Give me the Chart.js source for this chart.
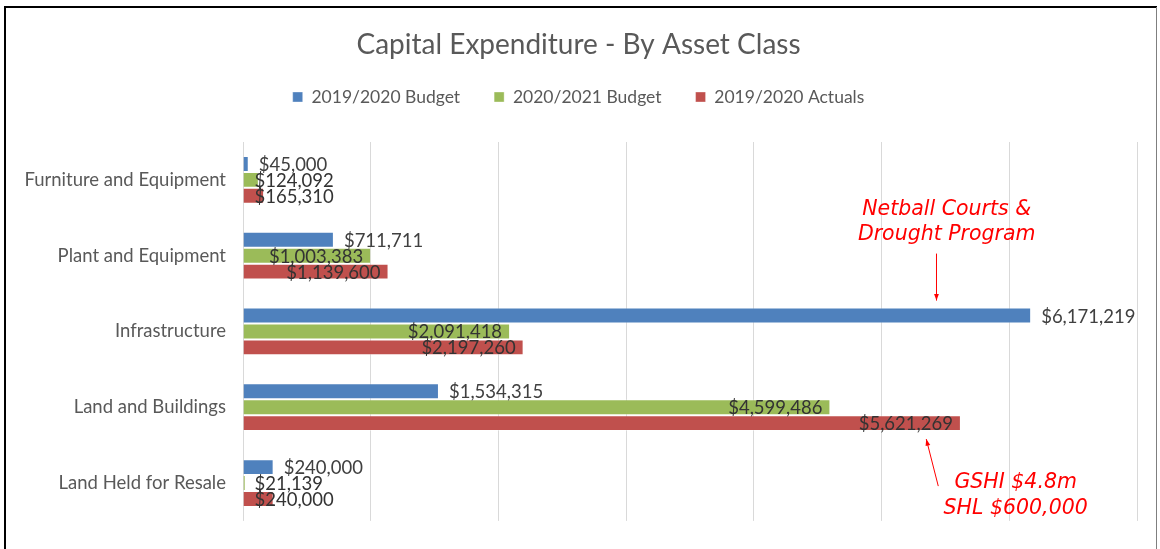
<!DOCTYPE html>
<html>
<head>
<meta charset="utf-8">
<script src="https://cdn.jsdelivr.net/npm/chart.js@4"></script>
<style>
  html, body { margin: 0; padding: 0; background: #fff; }
  #wrap { position: relative; width: 1160px; height: 549px; }
</style>
</head>
<body>
<div id="wrap"><canvas id="chart" width="1160" height="549"></canvas></div>
<script>
// ─── DATA ──────────────────────────────────────────────────────────────
const categories  = ['Furniture and Equipment', 'Plant and Equipment', 'Infrastructure', 'Land and Buildings', 'Land Held for Resale'];
const budget1920  = [45000, 711711, 6171219, 1534315, 240000];
const budget2021  = [124092, 1003383, 2091418, 4599486, 21139];
const actuals1920 = [165310, 1139600, 2197260, 5621269, 240000];
const seriesNames = ['2019/2020 Budget', '2020/2021 Budget', '2019/2020 Actuals'];

// notes written on the chart, anchored to a category and an x value
const notes = [
  { lines: ['Netball Courts &', 'Drought Program'], cat: 2, textX: 5510000, arrowX: 5430000, side: 'above' },
  { lines: ['GSHI $4.8m', 'SHL $600,000'], cat: 3, textX: 6050000, arrowX: 5350000, side: 'below' },
];

const COLORS = ['#4F81BD', '#9BBB59', '#C0504D'];
const FONT = 'Lato, "Open Sans", sans-serif';
const fmt = v => '$' + v.toLocaleString('en-US');
const LABEL_FONT = '18.5px ' + FONT;

// ─── PLUGINS ───────────────────────────────────────────────────────────
const frame = {
  id: 'frame',
  beforeDraw(chart) {
    const { ctx, width, height } = chart;
    ctx.save();
    ctx.fillStyle = '#fff';
    ctx.fillRect(0, 0, width, height);
    ctx.restore();
  },
  afterDraw(chart) {
    const { ctx, width, height } = chart;
    ctx.save();
    ctx.strokeStyle = '#000';
    ctx.lineWidth = 2;
    ctx.beginPath();
    ctx.moveTo(5, height);
    ctx.lineTo(5, 7);
    ctx.lineTo(width - 3, 7);
    ctx.stroke();
    ctx.strokeStyle = '#7f7f7f';
    ctx.lineWidth = 1;
    ctx.beginPath();
    ctx.moveTo(width - 3.5, 7);
    ctx.lineTo(width - 3.5, height);
    ctx.stroke();
    ctx.restore();
  },
};

const barLabels = {
  id: 'barLabels',
  afterDatasetsDraw(chart) {
    const { ctx } = chart;
    ctx.save();
    ctx.font = LABEL_FONT;
    ctx.textBaseline = 'middle';
    chart.data.datasets.forEach((ds, di) => {
      const meta = chart.getDatasetMeta(di);
      meta.data.forEach((bar, i) => {
        const txt = fmt(ds.data[i]);
        const w = ctx.measureText(txt).width;
        if (di === 0) {
          ctx.fillStyle = '#404040';
          ctx.textAlign = 'left';
          ctx.fillText(txt, bar.x + 10, bar.y + 1);
        } else if (bar.x - bar.base >= w + 8) {
          ctx.fillStyle = '#333';
          ctx.textAlign = 'right';
          ctx.fillText(txt, bar.x - 8, bar.y + 1);
        } else {
          ctx.fillStyle = '#333';
          ctx.textAlign = 'left';
          ctx.fillText(txt, bar.base + 11, bar.y + 1);
        }
      });
    });
    ctx.restore();
  },
};

const handNotes = {
  id: 'handNotes',
  afterDraw(chart) {
    const { ctx } = chart;
    const xs = chart.scales.x;
    ctx.save();
    ctx.fillStyle = '#ff0000';
    ctx.strokeStyle = '#ff0000';
    ctx.lineWidth = 1;
    ctx.font = 'italic 20.5px "DejaVu Sans", sans-serif';
    ctx.textAlign = 'center';
    ctx.textBaseline = 'middle';
    notes.forEach(n => {
      const top = chart.getDatasetMeta(0).data[n.cat];
      const bottom = chart.getDatasetMeta(2).data[n.cat];
      const tx = xs.getPixelForValue(n.textX);
      const ax = xs.getPixelForValue(n.arrowX);
      let tipY, tailY, tailX, textY;
      if (n.side === 'above') {
        tipY = top.y - top.height / 2 - 7;
        tailY = tipY - 47;
        tailX = ax;
        textY = tailY - 44;
      } else {
        tipY = bottom.y + bottom.height / 2 + 8;
        tailY = tipY + 47;
        tailX = ax + 12;
        textY = tailY - 3;
      }
      n.lines.forEach((l, k) => ctx.fillText(l, tx, textY + k * 25.5));
      ctx.beginPath();
      ctx.moveTo(tailX, tailY);
      ctx.lineTo(ax, tipY);
      ctx.stroke();
      const ang = Math.atan2(tipY - tailY, ax - tailX);
      ctx.beginPath();
      ctx.moveTo(ax, tipY);
      ctx.lineTo(ax - 7 * Math.cos(ang - 0.35), tipY - 7 * Math.sin(ang - 0.35));
      ctx.lineTo(ax - 7 * Math.cos(ang + 0.35), tipY - 7 * Math.sin(ang + 0.35));
      ctx.closePath();
      ctx.fill();
    });
    ctx.restore();
  },
};

// ─── CHART ─────────────────────────────────────────────────────────────
new Chart(document.getElementById('chart'), {
  type: 'bar',
  data: {
    labels: categories,
    datasets: [budget1920, budget2021, actuals1920].map((d, i) => ({
      label: seriesNames[i],
      data: d,
      backgroundColor: COLORS[i],
      borderColor: 'rgba(255,255,255,0.35)',
      borderWidth: 1,
      categoryPercentage: 0.63,
      barPercentage: 1.0,
    })),
  },
  options: {
    indexAxis: 'y',
    responsive: false,
    animation: false,
    layout: { padding: { left: 20, right: 23, bottom: 22, top: 0 } },
    plugins: {
      tooltip: { enabled: false },
      title: {
        display: true,
        text: 'Capital Expenditure - By Asset Class',
        color: '#595959',
        font: { family: FONT, size: 28, weight: 'normal', lineHeight: 1 },
        padding: { top: 31, bottom: -4.75 },
      },
      legend: {
        position: 'top',
        labels: {
          color: '#595959',
          font: { family: FONT, size: 17.5 },
          boxWidth: 10,
          boxHeight: 10,
          padding: 34,
        },
      },
    },
    scales: {
      x: {
        position: 'top',
        min: 0,
        max: 7000000,
        afterFit: s => { s.height = 26.25; },
        ticks: { display: false, stepSize: 1000000 },
        grid: { color: '#d9d9d9', drawTicks: false },
        border: { display: false },
      },
      y: {
        afterFit: s => { s.width = 223; },
        ticks: { color: '#595959', font: { family: FONT, size: 18.5 }, padding: 17 },
        grid: { display: false, drawTicks: false },
        border: { display: false },
      },
    },
  },
  plugins: [frame, barLabels, handNotes],
});
</script>
</body>
</html>
